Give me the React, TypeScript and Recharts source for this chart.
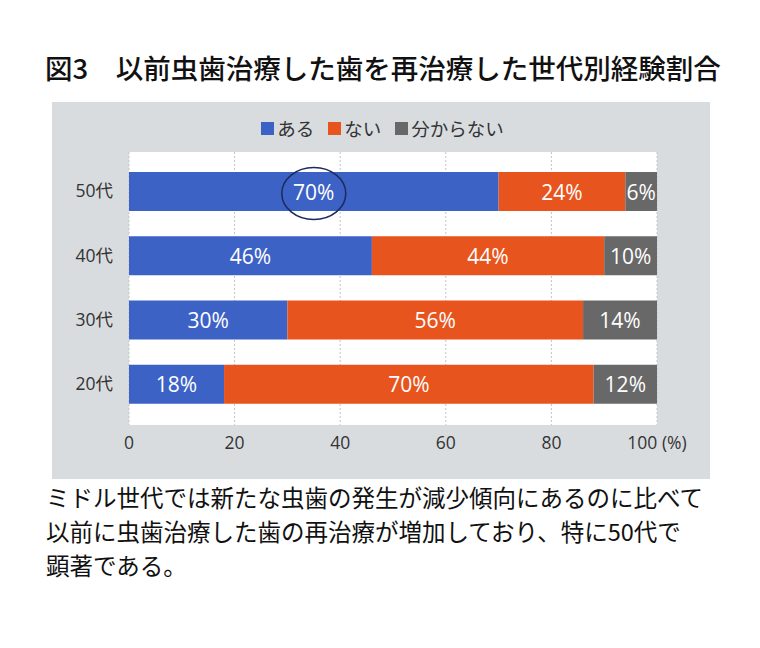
import React from "react";
import { BarChart, Bar, XAxis, YAxis, CartesianGrid, LabelList } from "recharts";

const ages = ["50代", "40代", "30代", "20代"];
const aru = [70, 46, 30, 18];
const nai = [24, 44, 56, 70];
const wakaranai = [6, 10, 14, 12];
const xTicks = [0, 20, 40, 60, 80, 100];

const seriesNames = ["ある", "ない", "分からない"];
const seriesKeys = ["aru", "nai", "wakaranai"];
const seriesColors = ["#3d62c6", "#e8541e", "#686868"];

const titleText = "図3　以前虫歯治療した歯を再治療した世代別経験割合";
const captionLines = [
  "ミドル世代では新たな虫歯の発生が減少傾向にあるのに比べて",
  "以前に虫歯治療した歯の再治療が増加しており、特に50代で",
  "顕著である。",
];

const data = ages.map((age, i) => ({
  age,
  aru: aru[i],
  nai: nai[i],
  wakaranai: wakaranai[i],
}));

const FONT = '"Open Sans", "Noto Sans CJK JP", sans-serif';
const JP = '"Noto Sans CJK JP", sans-serif';

const makeLabel = (circled: boolean) => (props: any) => {
  const { x, y, width, height, value, index } = props;
  const cx = x + width / 2;
  const cy = y + height / 2;
  return (
    <g>
      <text
        x={cx}
        y={cy}
        textAnchor="middle"
        dominantBaseline="central"
        fill="#ffffff"
        fontSize={21}
        fontFamily={FONT}
      >
        {value}%
      </text>
      {circled && index === 0 ? (
        <ellipse cx={cx} cy={cy + 2} rx={32} ry={26} fill="none" stroke="#1e2b5e" strokeWidth={1.6} />
      ) : null}
    </g>
  );
};

export default function App() {
  return (
    <div
      style={{
        position: "absolute",
        left: 0,
        top: 0,
        width: 760,
        height: 648,
        background: "#ffffff",
        overflow: "hidden",
        fontFamily: JP,
      }}
    >
      <div
        style={{
          position: "absolute",
          left: 45,
          top: 47,
          fontSize: 27.5,
          fontWeight: 500,
          color: "#111",
          whiteSpace: "nowrap",
          lineHeight: "40px",
        }}
      >
        {titleText}
      </div>
      <div
        style={{
          position: "absolute",
          left: 52,
          top: 102,
          width: 658,
          height: 377,
          background: "#d9dcdf",
        }}
      />
      <div
        style={{
          position: "absolute",
          left: 0,
          top: 115,
          width: 765,
          display: "flex",
          justifyContent: "center",
          alignItems: "center",
          fontSize: 18.5,
          color: "#333",
          lineHeight: "26px",
        }}
      >
        {seriesNames.map((n, i) => (
          <div key={n} style={{ display: "flex", alignItems: "center", marginRight: i < 2 ? 14 : 0 }}>
            <span style={{ display: "inline-block", width: 13, height: 13, background: seriesColors[i], marginRight: 3 }} />
            <span>{n}</span>
          </div>
        ))}
      </div>
      <div style={{ position: "absolute", left: 0, top: 0 }}>
        <BarChart
          width={760}
          height={648}
          data={data}
          layout="vertical"
          margin={{ top: 152, right: 103, bottom: 193, left: 69 }}
        >
          <CartesianGrid
            horizontal={false}
            vertical={true}
            fill="#ffffff"
            stroke="#c4c4c4"
            strokeDasharray="2 2"
          />
          <XAxis
            type="number"
            domain={[0, 100]}
            ticks={xTicks}
            height={30}
            axisLine={false}
            tickLine={false}
            tickSize={0}
            tickMargin={12}
            tick={{ fill: "#333", fontSize: 17.5, fontFamily: FONT }}
            tickFormatter={(v: number) => (v === 100 ? "100 (%)" : String(v))}
            interval={0}
          />
          <YAxis
            type="category"
            dataKey="age"
            width={60}
            axisLine={false}
            tickLine={false}
            tickSize={0}
            tickMargin={16}
            padding={{ top: 7, bottom: 9 }}
            tick={{ fill: "#333", fontSize: 17.5, fontFamily: FONT }}
          />
          {seriesKeys.map((k, i) => (
            <Bar
              key={k}
              dataKey={k}
              name={seriesNames[i]}
              stackId="s"
              fill={seriesColors[i]}
              barSize={39}
              isAnimationActive={false}
            >
              <LabelList dataKey={k} content={makeLabel(i === 0)} />
            </Bar>
          ))}
        </BarChart>
      </div>
      <div
        style={{
          position: "absolute",
          left: 46,
          top: 480,
          fontSize: 23.5,
          lineHeight: "34px",
          color: "#111",
          whiteSpace: "nowrap",
        }}
      >
        {captionLines.map((l) => (
          <div key={l}>{l}</div>
        ))}
      </div>
    </div>
  );
}
